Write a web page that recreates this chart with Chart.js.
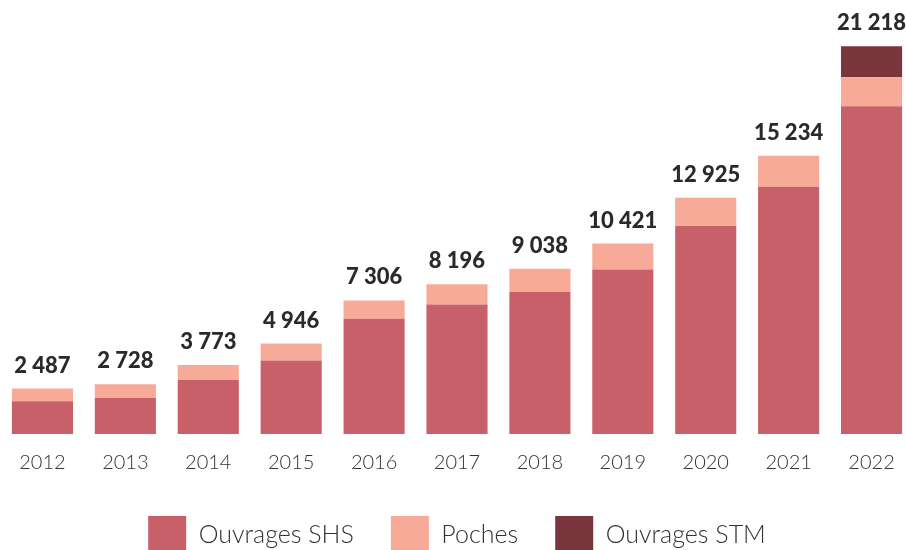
<!DOCTYPE html>
<html lang="fr">
<head>
<meta charset="utf-8">
<script src="https://cdn.jsdelivr.net/npm/chart.js@4"></script>
<style>
  html, body { margin: 0; padding: 0; background: #fff; overflow: hidden; }
  #wrap { position: absolute; left: 0; top: 0; width: 913px; height: 564px; }
</style>
</head>
<body>
<div id="wrap"><canvas id="chart"></canvas></div>
<script>
const years = ['2012', '2013', '2014', '2015', '2016', '2017', '2018', '2019', '2020', '2021', '2022'];
const shs = [1791, 1970, 2957, 4019, 6307, 7093, 7784, 9000, 11389, 13528, 17937];
const poches = [696, 758, 816, 927, 999, 1103, 1254, 1421, 1536, 1706, 1586];
const stm = [0, 0, 0, 0, 0, 0, 0, 0, 0, 0, 1695];
const totalLabels = ['2 487', '2 728', '3 773', '4 946', '7 306', '8 196', '9 038', '10 421', '12 925', '15 234', '21 218'];

const colors = {
  shs: '#c76069',
  poches: '#f7aa98',
  stm: '#7b363d'
};

// draw the total above each stack
const totalsPlugin = {
  id: 'totals',
  afterDatasetsDraw(chart) {
    const ctx = chart.ctx;
    const yScale = chart.scales.y;
    const meta = chart.getDatasetMeta(0);
    ctx.save();
    ctx.font = '900 22px Lato';
    ctx.fillStyle = '#2a2a2a';
    ctx.textAlign = 'center';
    ctx.textBaseline = 'alphabetic';
    years.forEach((y, i) => {
      const total = shs[i] + poches[i] + stm[i];
      const x = meta.data[i].x;
      const top = yScale.getPixelForValue(total);
      ctx.fillText(totalLabels[i], x, top - 16);
    });
    ctx.restore();
  }
};

new Chart(document.getElementById('chart'), {
  type: 'bar',
  data: {
    labels: years,
    datasets: [
      { label: 'Ouvrages SHS', data: shs, backgroundColor: colors.shs },
      { label: 'Poches', data: poches, backgroundColor: colors.poches },
      { label: 'Ouvrages STM', data: stm, backgroundColor: colors.stm }
    ]
  },
  options: {
    responsive: true,
    maintainAspectRatio: false,
    animation: false,
    layout: { padding: { left: 1, right: 0, top: 32, bottom: 0 } },
    datasets: {
      bar: { categoryPercentage: 1, barPercentage: 0.737, borderWidth: 0 }
    },
    scales: {
      x: {
        stacked: true,
        grid: { display: false, drawTicks: false },
        border: { display: false },
        ticks: { color: '#333', font: { family: 'Lato', weight: '300', size: 20 }, padding: 17 },
        afterFit(scale) { scale.height -= 13; }
      },
      y: {
        stacked: true,
        display: false,
        min: 0,
        max: 22000
      }
    },
    plugins: {
      tooltip: { enabled: false },
      legend: {
        position: 'bottom',
        labels: {
          boxWidth: 38,
          boxHeight: 38,
          padding: 37,
          color: '#333',
          font: { family: 'Lato', weight: '300', size: 25 }
        }
      }
    }
  },
  plugins: [totalsPlugin]
});
</script>
</body>
</html>
